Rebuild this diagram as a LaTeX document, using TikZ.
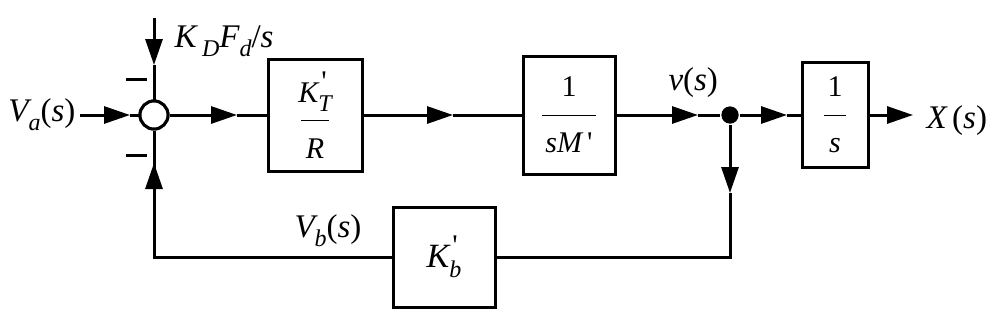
\documentclass[tikz,border=0pt]{standalone}
\usepackage{fontspec}
\setmainfont{Liberation Serif}
\usetikzlibrary{arrows.meta}
\newcommand\sbs[1]{\raisebox{-0.3em}{\fontsize{24}{24}\selectfont #1}}
\newcommand\prm{{\fontsize{30}{30}\selectfont\upshape\textquotesingle}}
\newcommand\pp[1]{{\upshape(}#1{\upshape)}}
\newcommand\frc[3]{#1\\\rule[0.3em]{#3}{1.2pt}\\#2}
\begin{document}
\begin{tikzpicture}[x=1pt,y=-1pt,
  line width=3pt,
  arr/.style={-{Triangle[length=26pt,width=17pt]}},
  blk/.style={draw,line width=3pt,inner sep=0pt,align=center,
    font=\fontsize{30}{28}\selectfont\itshape},
  lbl/.style={inner sep=0pt,font=\fontsize{33}{33}\selectfont\itshape},
  minus/.style={line width=3pt}]
\useasboundingbox (0,0) rectangle (1006,311);
% nodes
\node[draw,circle,fill=white,minimum size=28pt,inner sep=0pt] (sum) at (154,115) {};
\node[blk,minimum width=94pt,minimum height=112pt] (b1) at (315,115)
  {\frc{K\rlap{\kern3pt\raisebox{0.35em}{\prm}}\sbs{T}}{R}{28pt}};
\node[blk,minimum width=92pt,minimum height=118pt] (b2) at (569,115)
  {\frc{\upshape 1}{sM\,\prm}{54pt}};
\node[blk,minimum width=66pt,minimum height=105pt] (b3) at (835,115)
  {\frc{\upshape 1}{s}{22pt}};
\node[blk,minimum width=102pt,minimum height=100pt,font=\fontsize{34}{34}\selectfont\itshape] (kb) at (444,257)
  {K\rlap{\kern3pt\raisebox{0.35em}{\prm}}\sbs{b}};
\node[circle,fill,minimum size=17pt,inner sep=0pt] (jn) at (730,115) {};
% coordinates
\coordinate (in) at (80,115);
\coordinate (tin) at (130,115);
\coordinate (top) at (154,18);
\coordinate (ttop) at (154,65);
\coordinate (cbl) at (154,257);
\coordinate (tbot) at (154,163);
\coordinate (t1) at (237,115);
\coordinate (t2) at (453,115);
\coordinate (t3) at (698,115);
\coordinate (t4) at (787,115);
\coordinate (out) at (913,115);
\coordinate (tdn) at (730,193);
\coordinate (cbr) at (730,257);
% connectors
\draw[arr] (in) -- (tin);
\draw (tin) -- (sum.west);
\draw[arr] (top) -- (ttop);
\draw (ttop) -- (sum.north);
\draw (kb.west) -- (cbl) -- (tbot);
\draw[arr] (cbl) -- (tbot);
\draw (tbot) -- (sum.south);
\draw[arr] (sum.east) -- (t1);
\draw (t1) -- (b1.west);
\draw[arr] (b1.east) -- (t2);
\draw (t2) -- (b2.west);
\draw[arr] (b2.east) -- (t3);
\draw (t3) -- (jn);
\draw[arr] (jn) -- (t4);
\draw (t4) -- (b3.west);
\draw[arr] (b3.east) -- (out);
\draw[arr] (jn) -- (tdn);
\draw (tdn) -- (cbr) -- (kb.east);
\node[draw,circle,fill=white,minimum size=28pt,inner sep=0pt] at (sum) {};
\node[circle,fill,minimum size=17pt,inner sep=0pt] at (jn) {};
% minus signs
\draw[minus] (126,79) -- (147,79);
\draw[minus] (126,155) -- (147,155);
% labels
\node[lbl,anchor=base west] (lva) at (7,121) {V\sbs{a}\pp{s}};
\node[lbl,anchor=base west] (lx) at (925,128) {X\,\pp{s}};
\node[lbl,anchor=base west] (lv) at (667,90) {v\pp{s}};
\node[lbl,anchor=base west] (lvb) at (293,237) {V\sbs{b}\pp{s}};
\node[lbl,anchor=base west] (lkd) at (173,47) {K\,\sbs{D}F\sbs{d}{\upshape/}s};
\end{tikzpicture}
\end{document}
